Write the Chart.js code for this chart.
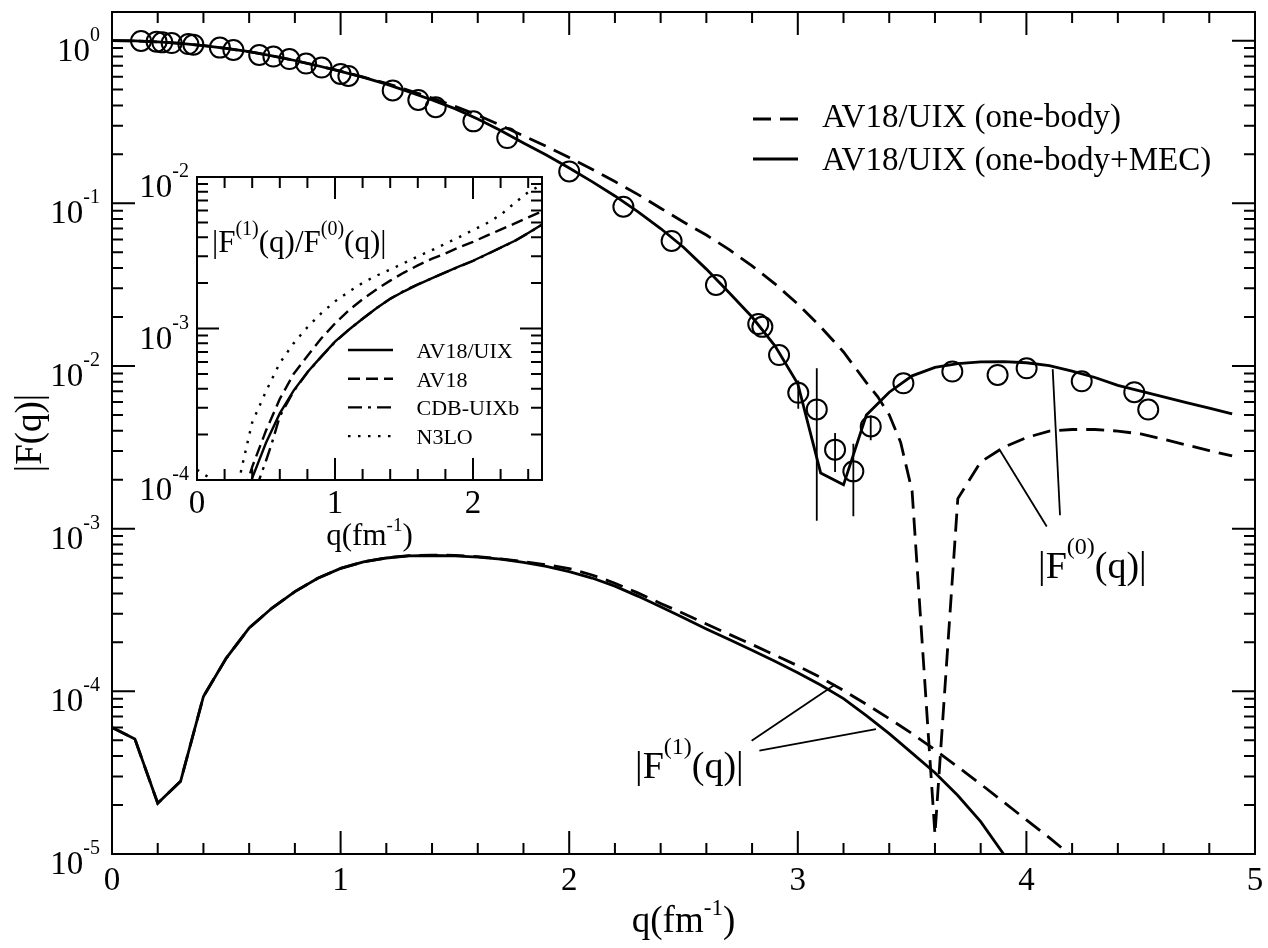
<!DOCTYPE html>
<html>
<head>
<meta charset="utf-8">
<script src="https://cdn.jsdelivr.net/npm/chart.js@4.4.1/dist/chart.umd.min.js"></script>
<style>
  html, body { margin: 0; padding: 0; background: #fff; }
  #wrap { position: relative; width: 1268px; height: 948px; }
  #main { position: absolute; left: 0; top: 0; width: 1268px; height: 948px; }
  #inset { position: absolute; left: 110px; top: 150px; width: 450px; height: 420px; }
</style>
</head>
<body>
<div id="wrap">
  <canvas id="main" width="1268" height="948"></canvas>
  <canvas id="inset" width="450" height="420"></canvas>
</div>
<script>
// ---- momentum transfer grid (fm^-1) ----
const q = [0,0.1,0.2,0.3,0.4,0.5,0.6,0.7,0.8,0.9,1.0,1.1,1.2,1.3,1.4,1.5,1.6,1.7,1.8,1.9,
           2.0,2.1,2.2,2.3,2.4,2.5,2.6,2.7,2.8,2.9,3.0,3.1,3.2,3.3,3.4,3.5,3.6,3.7,3.8,3.9,
           4.0,4.1,4.2,4.3,4.4,4.5,4.6,4.7,4.8,4.9];
// one-body |F^(0)| is tabulated more finely just before its zero
const qOne = [0,0.1,0.2,0.3,0.4,0.5,0.6,0.7,0.8,0.9,1.0,1.1,1.2,1.3,1.4,1.5,1.6,1.7,1.8,1.9,
              2.0,2.1,2.2,2.3,2.4,2.5,2.6,2.7,2.8,2.9,3.0,3.1,3.2,3.3,3.35,3.4,3.45,3.5,3.6,3.7,3.8,3.9,
              4.0,4.1,4.2,4.3,4.4,4.5,4.6,4.7,4.8,4.9];

// |F^(0)(q)| : one-body and one-body+MEC
const f0OneBody = [1.0,0.996,0.983,0.962,0.933,0.896,0.855,0.807,0.755,0.701,
                   0.649,0.596,0.547,0.493,0.444,0.395,0.348,0.302,0.260,0.224,
                   0.191,0.162,0.136,0.1135,0.0933,0.0767,0.0638,0.0519,0.0412,0.0320,
                   0.0240,0.0174,0.0122,0.00790,0.00646,0.00501,0.00339,0.00170,0.0000132,0.00153,0.00257,0.00316,
                   0.00363,0.00398,0.00407,0.00407,0.00398,0.00382,0.00355,0.00327,0.00302,0.00280];
const f0Mec = [1.0,0.996,0.983,0.962,0.933,0.896,0.855,0.807,0.755,0.701,
               0.648,0.594,0.540,0.484,0.432,0.382,0.330,0.280,0.235,0.198,
               0.165,0.136,0.111,0.089,0.0700,0.0537,0.0394,0.0282,0.0200,0.0133,
               0.00776,0.0022,0.00186,0.0050,0.0069,0.0087,0.0098,0.01035,0.0106,0.01064,
               0.01047,0.01005,0.0093,0.0085,0.0076,0.0070,0.00646,0.00596,0.0055,0.00508];

// |F^(1)(q)| : one-body (to q=4.2) and one-body+MEC (to q=3.9)
const f1OneBody = [6.0e-5,5.1e-5,2.05e-5,2.8e-5,9.3e-5,1.6e-4,2.45e-4,3.25e-4,4.1e-4,4.95e-4,
                   5.7e-4,6.25e-4,6.62e-4,6.83e-4,6.88e-4,6.86e-4,6.74e-4,6.52e-4,6.28e-4,6.0e-4,
                   5.69e-4,5.19e-4,4.62e-4,4.03e-4,3.47e-4,3.01e-4,2.59e-4,2.24e-4,1.94e-4,1.67e-4,
                   1.435e-4,1.216e-4,1.012e-4,8.32e-5,6.79e-5,5.50e-5,4.37e-5,3.43e-5,2.69e-5,2.09e-5,
                   1.62e-5,1.26e-5,9.66e-6];
const f1Mec = [6.0e-5,5.1e-5,2.05e-5,2.8e-5,9.3e-5,1.6e-4,2.45e-4,3.25e-4,4.1e-4,4.95e-4,
               5.7e-4,6.24e-4,6.6e-4,6.8e-4,6.84e-4,6.81e-4,6.68e-4,6.49e-4,6.21e-4,5.86e-4,
               5.45e-4,4.97e-4,4.43e-4,3.85e-4,3.31e-4,2.83e-4,2.42e-4,2.08e-4,1.79e-4,1.53e-4,
               1.30e-4,1.094e-4,9.02e-5,7.08e-5,5.50e-5,4.17e-5,3.16e-5,2.29e-5,1.58e-5,1.0e-5];

// measured charge form factor with error bars (null = bar hidden by the symbol)
const expQ = [0.127,0.195,0.22,0.261,0.334,0.356,0.472,0.531,0.644,0.706,0.776,0.849,0.917,1.0,1.034,
              1.228,1.34,1.416,1.581,1.729,2.0,2.237,2.448,2.642,2.827,2.845,2.918,3.002,3.083,3.163,
              3.243,3.319,3.462,3.676,3.874,4.001,4.242,4.472,4.533];
const expF = [0.995,0.986,0.976,0.967,0.953,0.945,0.906,0.876,0.816,0.798,0.771,0.723,0.683,0.624,0.607,
              0.494,0.432,0.390,0.319,0.252,0.157,0.0953,0.0587,0.0315,0.0181,0.0174,0.01168,0.00684,0.00541,0.00306,
              0.00225,0.00425,0.00783,0.00924,0.00881,0.00968,0.00805,0.00690,0.00540];
const expLo = expQ.map(() => null);
const expHi = expQ.map(() => null);
expLo[27] = 0.00546; expHi[27] = 0.00815;
expLo[28] = 0.00112; expHi[28] = 0.0097;
expLo[29] = 0.00223; expHi[29] = 0.00387;
expLo[30] = 0.00119; expHi[30] = 0.00333;
expLo[31] = 0.00349; expHi[31] = 0.00497;

// ---- inset: |F^(1)(q)/F^(0)(q)| ----
const qAv18Uix = [0.35,0.4,0.5,0.6,0.7,0.8,0.9,1.0,1.1,1.2,1.3,1.4,1.5,1.6,1.7,1.8,1.9,2.0,2.1,2.2,2.3,2.4,2.5];
const rAv18Uix = [6.6e-5,1.03e-4,1.76e-4,2.75e-4,3.89e-4,5.15e-4,6.52e-4,8.18e-4,9.82e-4,1.16e-3,1.36e-3,1.57e-3,
                  1.76e-3,1.95e-3,2.14e-3,2.35e-3,2.57e-3,2.80e-3,3.09e-3,3.42e-3,3.78e-3,4.27e-3,4.85e-3];
const qAv18 = [0.35,0.37,0.4,0.5,0.6,0.7,0.8,0.9,1.0,1.1,1.2,1.3,1.4,1.5,1.6,1.7,1.8,1.9,2.0,2.1,2.2,2.3,2.4,2.5];
const rAv18 = [8.5e-5,1.0e-4,1.22e-4,2.12e-4,3.43e-4,5.01e-4,6.59e-4,8.59e-4,1.08e-3,1.32e-3,1.56e-3,1.81e-3,
               2.07e-3,2.34e-3,2.61e-3,2.88e-3,3.13e-3,3.44e-3,3.73e-3,4.10e-3,4.49e-3,4.92e-3,5.41e-3,5.94e-3];
const qCdb = [0.44,0.45,0.5,0.54,0.6,0.7,0.8,0.9,1.0,1.1,1.2,1.3,1.4,1.5,1.6,1.7,1.8,1.9,2.0,2.1,2.2,2.3,2.4,2.5];
const rCdb = [8.7e-5,1.0e-4,1.34e-4,1.72e-4,2.63e-4,3.85e-4,5.13e-4,6.5e-4,8.15e-4,9.8e-4,1.16e-3,1.36e-3,
              1.57e-3,1.77e-3,1.96e-3,2.14e-3,2.35e-3,2.56e-3,2.79e-3,3.08e-3,3.41e-3,3.77e-3,4.26e-3,4.83e-3];
const qN3lo = [0,0.1,0.2,0.29,0.32,0.4,0.5,0.6,0.7,0.8,0.9,1.0,1.1,1.2,1.3,1.4,1.5,1.6,1.7,1.8,1.9,2.0,2.1,2.2,2.3,2.4,2.5];
const rN3lo = [1.17e-4,1.02e-4,2.5e-5,7.6e-5,1.16e-4,2.4e-4,3.85e-4,5.92e-4,7.98e-4,1.02e-3,1.26e-3,1.51e-3,1.75e-3,
               2.0e-3,2.23e-3,2.45e-3,2.70e-3,2.99e-3,3.28e-3,3.63e-3,4.01e-3,4.46e-3,4.95e-3,5.62e-3,6.71e-3,7.94e-3,8.91e-3];

// ---- tick labels and annotation text ----
const xTickLabels = ['0','1','2','3','4','5'];
const yDecades = [0,-1,-2,-3,-4,-5];
const insetXTickLabels = ['0','1','2'];
const insetDecades = [-2,-3,-4];
const legendNames = ['AV18/UIX (one-body)','AV18/UIX (one-body+MEC)'];
const insetNames = ['AV18/UIX','AV18','CDB-UIXb','N3LO'];

// pointer lines in data units: [q1, F1, q2, F2]
const f1Pointers = [[2.798,4.97e-5,3.163,1.10e-4],[2.832,4.32e-5,3.342,5.86e-5]];
const f0Pointers = [[4.089,1.03e-3,3.880,3.10e-3],[4.147,1.21e-3,4.115,9.57e-3]];
const f1LabelAt = [2.288, 2.95e-5];
const f0LabelAt = [4.051, 4.94e-4];

const SERIF = '"Liberation Serif", "Times New Roman", Times, serif';
const pts = (xs, ys) => xs.map((x, i) => ({ x, y: ys[i] }));

// text made of normal and superscript runs
function drawRich(ctx, parts, x, y, o) {
  let total = 0;
  const widths = parts.map(([t, s]) => {
    ctx.font = `${s ? o.sup : o.size}px ${SERIF}`;
    const w = ctx.measureText(t).width; total += w; return w;
  });
  let cx = o.align === 'right' ? x - total : o.align === 'center' ? x - total / 2 : x;
  ctx.textAlign = 'left'; ctx.textBaseline = 'alphabetic'; ctx.fillStyle = '#000';
  parts.forEach(([t, s], i) => {
    ctx.font = `${s ? o.sup : o.size}px ${SERIF}`;
    ctx.fillText(t, cx, s ? y - o.rise : y);
    cx += widths[i];
  });
}

// frame with inward major/minor ticks on all four sides
function drawFrame(chart, o) {
  const { ctx, chartArea: a } = chart;
  const xs = chart.scales.x, ys = chart.scales.y;
  ctx.save();
  ctx.strokeStyle = '#000'; ctx.lineWidth = 2; ctx.lineCap = 'butt'; ctx.setLineDash([]);
  ctx.beginPath();
  const xt = (v, len) => { const p = xs.getPixelForValue(v);
    ctx.moveTo(p, a.bottom); ctx.lineTo(p, a.bottom - len);
    ctx.moveTo(p, a.top); ctx.lineTo(p, a.top + len); };
  const yt = (v, len) => { const p = ys.getPixelForValue(v);
    ctx.moveTo(a.left, p); ctx.lineTo(a.left + len, p);
    ctx.moveTo(a.right, p); ctx.lineTo(a.right - len, p); };
  for (let k = 0; k * o.xMinorStep <= xs.max + 1e-9; k++) {
    const v = k * o.xMinorStep;
    const major = Math.abs(v - Math.round(v)) < 1e-9;
    xt(v, major ? o.major : o.minor);
  }
  for (let e = Math.floor(Math.log10(ys.min)); e <= Math.ceil(Math.log10(ys.max)); e++) {
    for (let m = 1; m <= 9; m++) {
      const v = m * Math.pow(10, e);
      if (v < ys.min * 0.999 || v > ys.max * 1.001) continue;
      yt(v, m === 1 ? o.major : o.minor);
    }
  }
  ctx.stroke();
  ctx.strokeRect(a.left, a.top, a.right - a.left, a.bottom - a.top);
  ctx.restore();
}

function dataLine(ctx, chart, seg, width) {
  const xs = chart.scales.x, ys = chart.scales.y;
  ctx.save();
  ctx.strokeStyle = '#000'; ctx.lineWidth = width; ctx.setLineDash([]);
  ctx.beginPath();
  ctx.moveTo(xs.getPixelForValue(seg[0]), ys.getPixelForValue(seg[1]));
  ctx.lineTo(xs.getPixelForValue(seg[2]), ys.getPixelForValue(seg[3]));
  ctx.stroke();
  ctx.restore();
}

const mainDecor = {
  id: 'mainDecor',
  afterDatasetsDraw(chart) {
    const { ctx } = chart;
    const xs = chart.scales.x, ys = chart.scales.y;
    // error bars
    ctx.save();
    ctx.strokeStyle = '#000'; ctx.lineWidth = 1.8; ctx.setLineDash([]);
    ctx.beginPath();
    expQ.forEach((qq, i) => {
      if (expLo[i] === null) return;
      const px = xs.getPixelForValue(qq);
      ctx.moveTo(px, ys.getPixelForValue(expLo[i]));
      ctx.lineTo(px, ys.getPixelForValue(expHi[i]));
    });
    ctx.stroke();
    ctx.restore();
    f1Pointers.concat(f0Pointers).forEach(s => dataLine(ctx, chart, s, 1.8));
  },
  afterDraw(chart) {
    const { ctx, chartArea: a } = chart;
    const xs = chart.scales.x, ys = chart.scales.y;
    drawFrame(chart, { xMinorStep: 0.2, major: 23, minor: 11 });

    // tick labels
    xTickLabels.forEach((t, i) => {
      drawRich(ctx, [[t, false]], xs.getPixelForValue(i), a.bottom + 36, { size: 33, sup: 20, rise: 0, align: 'center' });
    });
    yDecades.forEach(e => {
      const p = ys.getPixelForValue(Math.pow(10, e));
      drawRich(ctx, [['10', false], [String(e), true]], a.left - 12, p + 20, { size: 33, sup: 20, rise: 20, align: 'right' });
    });

    // axis titles
    drawRich(ctx, [['q(fm', false], ['-1', true], [')', false]], (a.left + a.right) / 2, a.bottom + 78,
             { size: 37, sup: 23, rise: 17, align: 'center' });
    ctx.save();
    ctx.translate(41, (a.top + a.bottom) / 2);
    ctx.rotate(-Math.PI / 2);
    drawRich(ctx, [['|F(q)|', false]], 0, 0, { size: 37, sup: 23, rise: 0, align: 'center' });
    ctx.restore();

    // legend
    ctx.save();
    ctx.strokeStyle = '#000'; ctx.lineWidth = 2.8;
    ctx.setLineDash([18, 9]);
    ctx.beginPath(); ctx.moveTo(a.left + 641, a.top + 107); ctx.lineTo(a.left + 686, a.top + 107); ctx.stroke();
    ctx.setLineDash([]);
    ctx.beginPath(); ctx.moveTo(a.left + 641, a.top + 147); ctx.lineTo(a.left + 686, a.top + 147); ctx.stroke();
    ctx.restore();
    drawRich(ctx, [[legendNames[0], false]], a.left + 710, a.top + 115, { size: 33, sup: 20, rise: 0, align: 'left' });
    drawRich(ctx, [[legendNames[1], false]], a.left + 710, a.top + 158, { size: 33, sup: 20, rise: 0, align: 'left' });

    // curve labels
    drawRich(ctx, [['|F', false], ['(1)', true], ['(q)|', false]],
             xs.getPixelForValue(f1LabelAt[0]), ys.getPixelForValue(f1LabelAt[1]),
             { size: 38, sup: 24, rise: 24, align: 'left' });
    drawRich(ctx, [['|F', false], ['(0)', true], ['(q)|', false]],
             xs.getPixelForValue(f0LabelAt[0]), ys.getPixelForValue(f0LabelAt[1]),
             { size: 38, sup: 24, rise: 24, align: 'left' });
  }
};

const lineDs = (data, dash, width) => ({
  data, showLine: true, borderColor: '#000', borderWidth: width, borderDash: dash,
  pointRadius: 0, fill: false, tension: 0
});

new Chart(document.getElementById('main'), {
  type: 'scatter',
  data: {
    datasets: [
      lineDs(pts(qOne, f0OneBody), [18, 9], 2.8),
      lineDs(pts(q, f0Mec), [], 2.8),
      lineDs(pts(q.slice(0, f1OneBody.length), f1OneBody), [18, 9], 2.8),
      lineDs(pts(q.slice(0, f1Mec.length), f1Mec), [], 2.8),
      {
        data: pts(expQ, expF), showLine: false,
        pointStyle: 'circle', pointRadius: 10, borderWidth: 2,
        borderColor: '#000', backgroundColor: 'rgba(0,0,0,0)'
      }
    ]
  },
  options: {
    responsive: false, animation: false, devicePixelRatio: 1,
    layout: { padding: { left: 112, right: 13, top: 8, bottom: 94 } },
    plugins: { legend: { display: false }, tooltip: { enabled: false } },
    scales: {
      x: { type: 'linear', min: 0, max: 5, display: false },
      y: { type: 'logarithmic', min: 1e-5, max: 1.5, display: false }
    }
  },
  plugins: [mainDecor]
});

const insetDecor = {
  id: 'insetDecor',
  afterDraw(chart) {
    const { ctx, chartArea: a } = chart;
    const xs = chart.scales.x, ys = chart.scales.y;
    drawFrame(chart, { xMinorStep: 0.2, major: 22, minor: 11 });

    insetXTickLabels.forEach((t, i) => {
      drawRich(ctx, [[t, false]], xs.getPixelForValue(i), a.bottom + 33, { size: 33, sup: 20, rise: 0, align: 'center' });
    });
    insetDecades.forEach(e => {
      const p = ys.getPixelForValue(Math.pow(10, e));
      drawRich(ctx, [['10', false], [String(e), true]], a.left - 8, p + 20, { size: 33, sup: 20, rise: 20, align: 'right' });
    });
    drawRich(ctx, [['q(fm', false], ['-1', true], [')', false]], (a.left + a.right) / 2, a.bottom + 65,
             { size: 31, sup: 19, rise: 14, align: 'center' });

    drawRich(ctx, [['|F', false], ['(1)', true], ['(q)/F', false], ['(0)', true], ['(q)|', false]],
             a.left + 15, a.top + 75, { size: 31, sup: 20, rise: 17, align: 'left' });

    // legend
    const dashes = [[], [12, 6], [14, 6, 3, 6], [2.5, 7.5]];
    ctx.save();
    ctx.strokeStyle = '#000'; ctx.lineWidth = 2.4;
    dashes.forEach((d, i) => {
      const y = a.top + 173 + i * 28.7;
      ctx.setLineDash(d);
      ctx.beginPath(); ctx.moveTo(a.left + 151, y); ctx.lineTo(a.left + 196, y); ctx.stroke();
    });
    ctx.restore();
    insetNames.forEach((t, i) => {
      drawRich(ctx, [[t, false]], a.left + 219.5, a.top + 181 + i * 28.7, { size: 22, sup: 14, rise: 0, align: 'left' });
    });
  }
};

new Chart(document.getElementById('inset'), {
  type: 'scatter',
  data: {
    datasets: [
      lineDs(pts(qAv18Uix, rAv18Uix), [], 2.4),
      lineDs(pts(qAv18, rAv18), [12, 6], 2.4),
      lineDs(pts(qCdb, rCdb), [14, 6, 3, 6], 2.4),
      lineDs(pts(qN3lo, rN3lo), [2.5, 7.5], 2.4)
    ]
  },
  options: {
    responsive: false, animation: false, devicePixelRatio: 1,
    layout: { padding: { left: 87, right: 18, top: 27, bottom: 90 } },
    plugins: { legend: { display: false }, tooltip: { enabled: false } },
    scales: {
      x: { type: 'linear', min: 0, max: 2.5, display: false },
      y: { type: 'logarithmic', min: 1e-4, max: 1e-2, display: false }
    }
  },
  plugins: [insetDecor]
});
</script>
</body>
</html>
